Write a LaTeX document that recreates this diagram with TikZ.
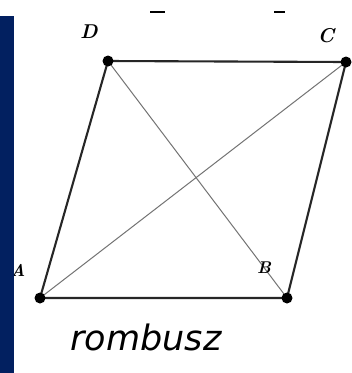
\documentclass[tikz,border=0pt]{standalone}
\usepackage{fontspec}
\usepackage{xcolor}
\usetikzlibrary{positioning}
\newfontfamily\rombfont{DejaVu Sans}
\definecolor{NavyBar}{RGB}{2,32,96}
\tikzset{
	side/.style={line width=2.1pt, black!85},
	diag/.style={line width=1pt, black!55},
	vertex/.style={font=\bfseries\itshape\fontsize{17}{17}\selectfont, inner sep=0pt}
}

\begin{document}
\begin{tikzpicture}[x=1pt, y=-1pt]
		\useasboundingbox (0,0) rectangle (352,373);
		\fill[white] (0,0) rectangle (352,373);
		% corners of the rhombus
		\coordinate (A) at (40,298);
		\coordinate (B) at (287,298);
		\coordinate (C) at (346,62);
		\coordinate (D) at (108,61);
		\draw[diag] (A) -- (C);
		\draw[diag] (D) -- (B);
		\draw[side] (A) -- (B) -- (C) -- (D) -- cycle;
		\fill (A) circle (5.5pt);
		\fill (B) circle (5.5pt);
		\fill (C) circle (5.5pt);
		\fill (D) circle (5.5pt);
		\node[vertex, font=\bfseries\itshape\fontsize{20}{20}\selectfont] (labD) at (89,32) {D};
		\node[vertex, font=\bfseries\itshape\fontsize{20}{20}\selectfont] (labC) at (326,36) {C};
		\node[vertex] (labA) at (18,270) {A};
		\node[vertex] (labB) at (264,268) {B};
		\node[font=\rombfont\itshape\fontsize{35}{35}\selectfont, inner sep=0pt] (name) at (146,337) {rombusz};
		% bits of a cut-off heading
		\draw[line width=2.5pt] (150,12) -- (165,12);
		\draw[line width=2.5pt] (274,12) -- (285,12);
		\fill[NavyBar] (0,16) rectangle (14,373);
	\end{tikzpicture}
\end{document}
